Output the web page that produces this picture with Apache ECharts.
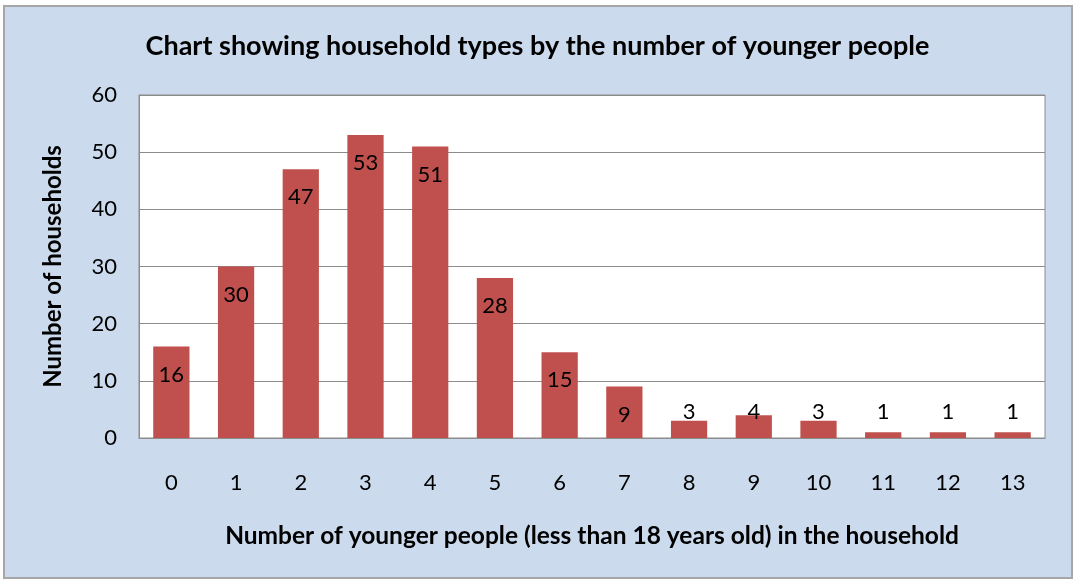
<!DOCTYPE html>
<html>
<head>
<meta charset="utf-8">
<script src="https://cdn.jsdelivr.net/npm/echarts@6/dist/echarts.min.js"></script>
<style>
    body { margin: 0; background: #fff; }
    #frame { position: absolute; left: 3px; top: 5px; width: 1066px; height: 570px; border: 2px solid #a6a6a6; background: #cbdaec; }
    #main { position: absolute; left: 0; top: 0; width: 1075px; height: 581px; }
</style>
</head>
<body>
<div id="frame"></div>
<div id="main"></div>
<script>
    // 数据
    var categories = ['0', '1', '2', '3', '4', '5', '6', '7', '8', '9', '10', '11', '12', '13'];
    var households = [16, 30, 47, 53, 51, 28, 15, 9, 3, 4, 3, 1, 1, 1];
    var yTicks = { min: 0, max: 60, interval: 10 };

    var fontName = 'Lato, "Open Sans", sans-serif';
    var chart = echarts.init(document.getElementById('main'));

    //小柱子的标签放在上面
    var barData = households.map(function (v) {
        if (v < 5) {
            return { value: v, label: { position: 'insideBottom', distance: 15 } };
        }
        return v;
    });

    var option = {
        animation: false,
        title: {
            text: 'Chart showing household types by the number of younger people',
            left: 'center',
            top: 28,
            textStyle: { fontFamily: fontName, fontSize: 27, fontWeight: 'bold', color: '#000' }
        },
        grid: {
            left: 139, top: 95, right: 30, bottom: 143,
            show: true, backgroundColor: '#fff', borderColor: '#8c8c8c', borderWidth: 1
        },
        xAxis: {
            type: 'category',
            data: categories,
            name: 'Number of younger people (less than 18 years old) in the household',
            nameLocation: 'middle',
            nameGap: 86,
            nameTextStyle: { fontFamily: fontName, fontSize: 24.5, fontWeight: 'bold', color: '#000' },
            axisLine: { lineStyle: { color: '#8c8c8c' } },
            axisTick: { show: false },
            axisLabel: { fontFamily: fontName, fontSize: 22, color: '#000', margin: 34 }
        },
        yAxis: {
            type: 'value',
            min: yTicks.min, max: yTicks.max, interval: yTicks.interval,
            name: 'Number of households',
            nameLocation: 'middle',
            nameGap: 74,
            nameTextStyle: { fontFamily: fontName, fontSize: 24, fontWeight: 'bold', color: '#000' },
            axisLine: { show: true, lineStyle: { color: '#8c8c8c' } },
            axisTick: { show: false },
            axisLabel: { fontFamily: fontName, fontSize: 22, color: '#000', margin: 22 },
            splitLine: { lineStyle: { color: '#8c8c8c', width: 1 } }
        },
        series: [{
            type: 'bar',
            data: barData,
            barWidth: '56%',
            itemStyle: { color: '#c0504d' },
            label: {
                show: true,
                position: 'insideTop',
                distance: 17,
                fontFamily: fontName,
                fontSize: 22,
                color: '#000'
            }
        }]
    };
    chart.setOption(option);
</script>
</body>
</html>
